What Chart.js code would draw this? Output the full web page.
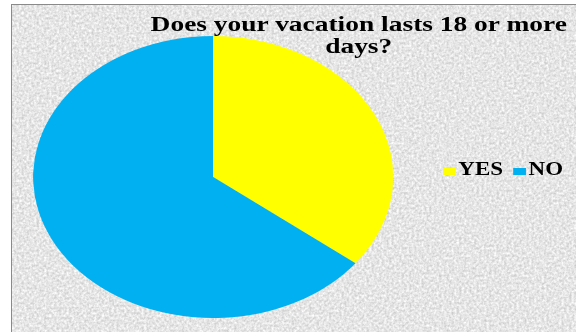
<!DOCTYPE html>
<html>
<head>
<meta charset="utf-8">
<script src="https://cdn.jsdelivr.net/npm/chart.js@4"></script>
<style>
  html,body{margin:0;padding:0;background:#fff;}
  #page{position:relative;width:576px;height:332px;overflow:hidden;}
  #frame{
    position:absolute;left:11px;top:4px;width:620px;height:360px;
    border-left:1.5px solid #8a8a8a;border-top:1.5px solid #8a8a8a;
    background-color:#e6e6e6;
  }
  /* whole chart is laid out narrow and stretched sideways */
  #wrap{position:absolute;left:0;top:0;width:451px;height:332px;transform:scaleX(1.2766);transform-origin:0 0;}
  #c{position:absolute;left:0;top:0;}
  #title{
    position:absolute;left:81px;top:14px;width:400px;text-align:center;white-space:nowrap;
    font:bold 21.5px/21.5px "Liberation Serif","Times New Roman",serif;color:#000;
  }
  #legend{
    position:absolute;left:347px;top:160px;white-space:nowrap;
    font:bold 18px/18px "Liberation Serif","Times New Roman",serif;color:#000;
  }
  #legend .box{display:inline-block;width:10px;height:7px;margin-right:2px;vertical-align:baseline;}
  #legend .item{margin-right:8px;}
</style>
</head>
<body>
<div id="page">
  <div id="frame"></div>
  <div id="wrap">
    <canvas id="c" width="451" height="332"></canvas>
    <div id="title">Does your vacation lasts 18 or more<br>days?</div>
    <div id="legend"></div>
  </div>
</div>
<script>
const labels=['YES','NO'];
const answers=[11,20];
const colors=['#FFFF00','#00B0F0'];

// soft granite grain for the plot background
const noise="<svg xmlns='http://www.w3.org/2000/svg' width='620' height='360'>"+
  "<filter id='n' color-interpolation-filters='sRGB'><feTurbulence type='fractalNoise' baseFrequency='0.4' numOctaves='2' seed='4'/>"+
  "<feColorMatrix type='matrix' values='0.3 0 0 0 0.75  0.3 0 0 0 0.75  0.3 0 0 0 0.75  0 0 0 0 1'/></filter>"+
  "<rect width='100%' height='100%' filter='url(#n)'/></svg>";
document.getElementById('frame').style.backgroundImage='url("data:image/svg+xml;utf8,'+encodeURIComponent(noise)+'")';

const chart=new Chart(document.getElementById('c'),{
  type:'pie',
  data:{labels,datasets:[{data:answers,backgroundColor:colors,borderWidth:0}]},
  options:{
    responsive:false,
    animation:false,
    devicePixelRatio:2,
    layout:{padding:{left:26,right:143,top:36,bottom:14}},
    plugins:{legend:{display:false},title:{display:false},tooltip:{enabled:false}}
  }
});

// legend in one row, built from the chart data
const legendEl=document.getElementById('legend');
chart.data.labels.forEach((l,i)=>{
  const it=document.createElement('span');
  it.className='item';
  it.innerHTML=`<span class="box" style="background:${chart.data.datasets[0].backgroundColor[i]}"></span>${l}`;
  legendEl.appendChild(it);
});
</script>
</body>
</html>
